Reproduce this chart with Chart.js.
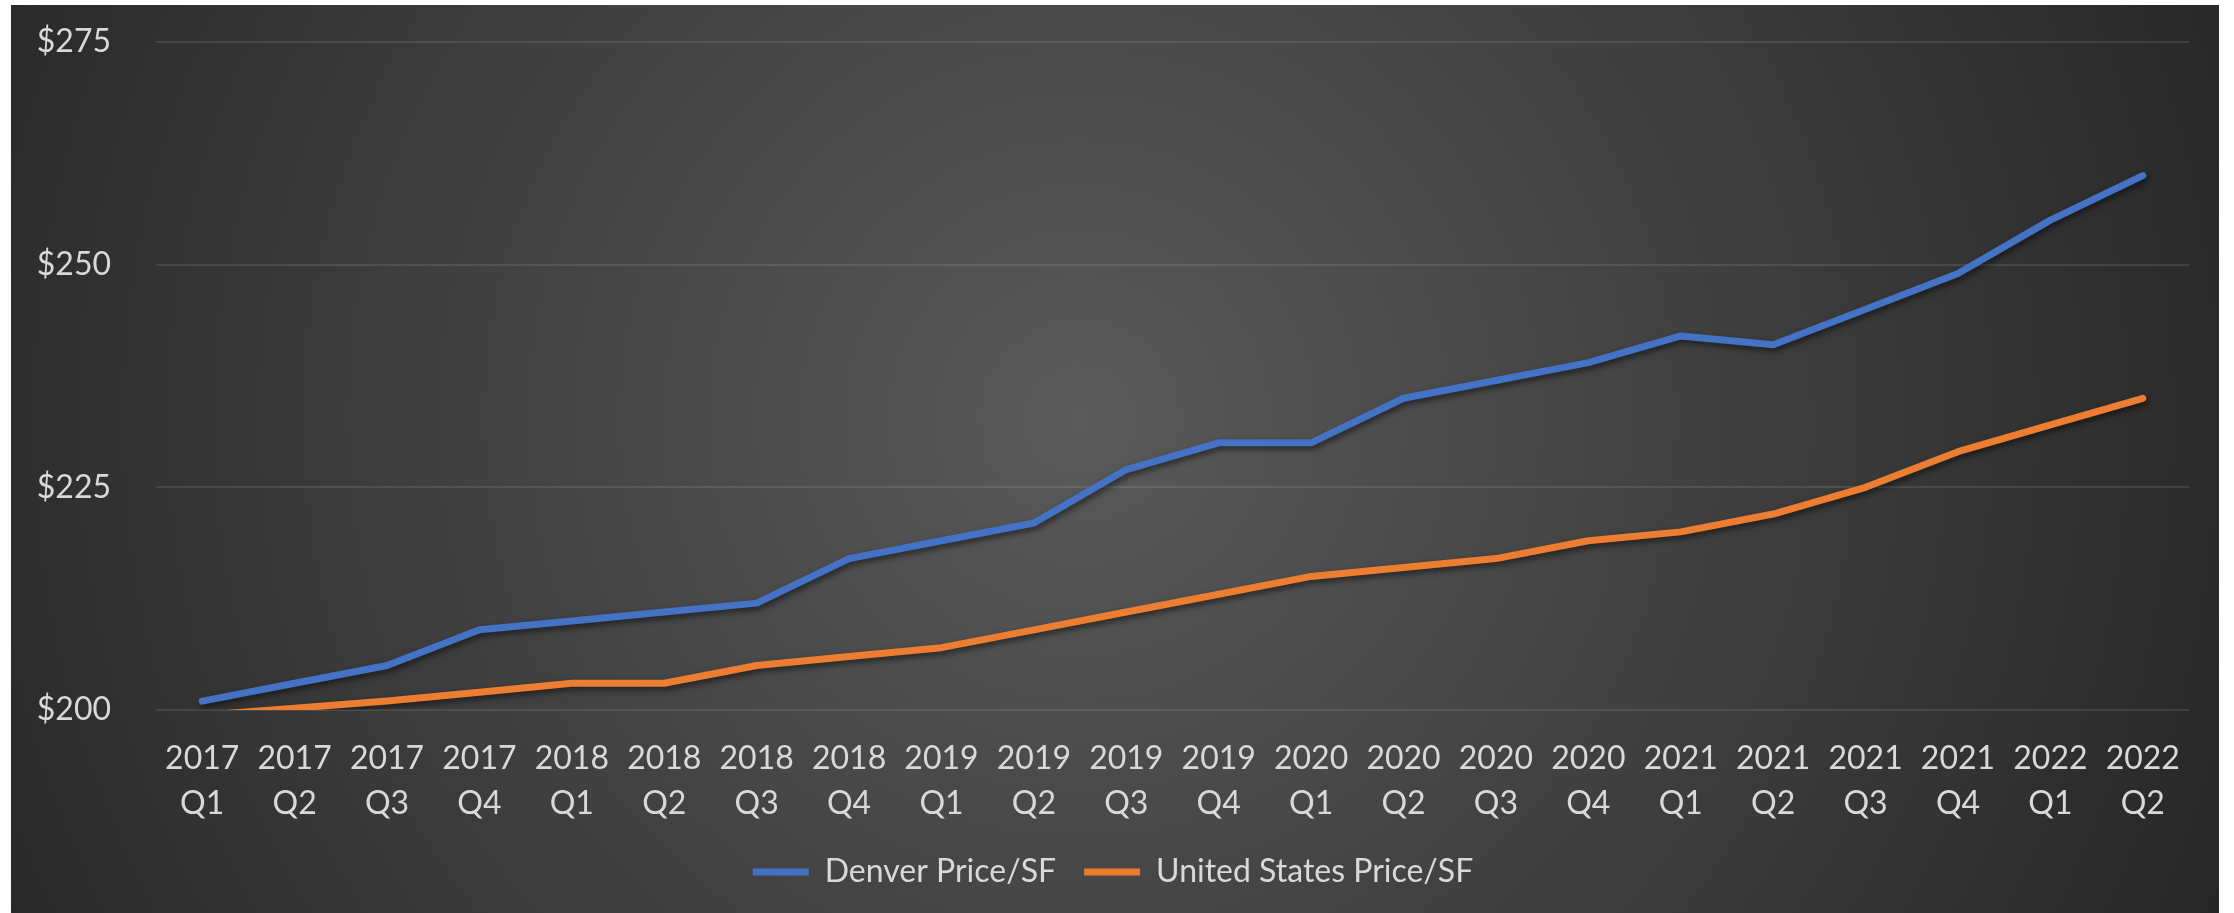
<!DOCTYPE html>
<html>
<head>
<meta charset="utf-8">
<script src="https://cdn.jsdelivr.net/npm/chart.js@4.4.0/dist/chart.umd.min.js"></script>
<style>
  html, body { margin: 0; padding: 0; background: #ffffff; }
  canvas { display: block; }
</style>
</head>
<body>
<canvas id="priceChart" width="2234" height="913"></canvas>
<script>
// quarters on the x axis (two-line labels)
const quarters = [
    ['2017', 'Q1'], ['2017', 'Q2'], ['2017', 'Q3'], ['2017', 'Q4'],
    ['2018', 'Q1'], ['2018', 'Q2'], ['2018', 'Q3'], ['2018', 'Q4'],
    ['2019', 'Q1'], ['2019', 'Q2'], ['2019', 'Q3'], ['2019', 'Q4'],
    ['2020', 'Q1'], ['2020', 'Q2'], ['2020', 'Q3'], ['2020', 'Q4'],
    ['2021', 'Q1'], ['2021', 'Q2'], ['2021', 'Q3'], ['2021', 'Q4'],
    ['2022', 'Q1'], ['2022', 'Q2']
];

const denverPrice = [201, 203, 205, 209, 210, 211, 212, 217, 219, 221, 227, 230, 230, 235, 237, 239, 242, 241, 245, 249, 255, 260];
const usPrice = [199.4, 200.2, 201, 202, 203, 203, 205, 206, 207, 209, 211, 213, 215, 216, 217, 219, 220, 222, 225, 229, 232, 235];

const yTicks = [200, 225, 250, 275];

const textColor = '#d9d9d9';
const fontFamily = 'Lato, "Open Sans", sans-serif';

// dark panel with radial shading behind the chart
const panelBackground = {
    id: 'panelBackground',
    beforeDraw(chart) {
        const ctx = chart.ctx;
        const x0 = 11, y0 = 5, x1 = 2219, y1 = chart.height;
        ctx.save();
        const g = ctx.createRadialGradient(1080, 420, 0, 1080, 420, 1250);
        g.addColorStop(0, '#5a5a5a');
        g.addColorStop(1, '#262626');
        ctx.fillStyle = g;
        ctx.fillRect(x0, y0, x1 - x0, y1 - y0);
        ctx.restore();
    }
};

// soft drop shadow under the lines
const lineShadow = {
    id: 'lineShadow',
    beforeDatasetDraw(chart) {
        const ctx = chart.ctx;
        ctx.save();
        ctx.shadowColor = 'rgba(0, 0, 0, 0.55)';
        ctx.shadowBlur = 6;
        ctx.shadowOffsetX = 2;
        ctx.shadowOffsetY = 3;
    },
    afterDatasetDraw(chart) {
        chart.ctx.restore();
    }
};

new Chart(document.getElementById('priceChart'), {
    type: 'line',
    data: {
        labels: quarters,
        datasets: [
            {
                label: 'Denver Price/SF',
                data: denverPrice,
                borderColor: '#4472c4',
                backgroundColor: '#4472c4',
                borderWidth: 7,
                borderCapStyle: 'round',
                borderJoinStyle: 'round',
                pointRadius: 0,
                tension: 0,
                clip: { left: 10, right: 10, top: 10, bottom: 0 }
            },
            {
                label: 'United States Price/SF',
                data: usPrice,
                borderColor: '#ed7d31',
                backgroundColor: '#ed7d31',
                borderWidth: 7,
                borderCapStyle: 'round',
                borderJoinStyle: 'round',
                pointRadius: 0,
                tension: 0,
                clip: { left: 10, right: 10, top: 10, bottom: 0 }
            }
        ]
    },
    options: {
        responsive: false,
        animation: false,
        layout: {
            padding: { left: 37, right: 45, top: 42, bottom: 15 }
        },
        plugins: {
            legend: {
                position: 'bottom',
                labels: {
                    color: textColor,
                    font: { family: fontFamily, size: 32 },
                    usePointStyle: true,
                    pointStyle: 'line',
                    pointStyleWidth: 56,
                    padding: 28
                }
            },
            tooltip: { enabled: false }
        },
        scales: {
            x: {
                offset: true,
                grid: { display: false, offset: true },
                border: { display: false },
                ticks: {
                    color: textColor,
                    font: { family: fontFamily, size: 32, lineHeight: 1.4 },
                    maxRotation: 0,
                    autoSkip: false,
                    padding: 18
                },
                afterFit(scale) {
                    scale.height = 118;
                }
            },
            y: {
                min: 200,
                max: 275,
                grid: {
                    color: 'rgba(255, 255, 255, 0.1)',
                    lineWidth: 2,
                    drawTicks: false
                },
                border: { display: false },
                afterBuildTicks(scale) {
                    scale.ticks = yTicks.map(v => ({ value: v }));
                },
                ticks: {
                    color: textColor,
                    font: { family: fontFamily, size: 32 },
                    padding: 45,
                    callback: value => '$' + value
                },
                afterFit(scale) {
                    scale.width = 119;
                    scale.paddingTop = 0;
                    scale.paddingBottom = 0;
                }
            }
        }
    },
    plugins: [panelBackground, lineShadow]
});
</script>
</body>
</html>
